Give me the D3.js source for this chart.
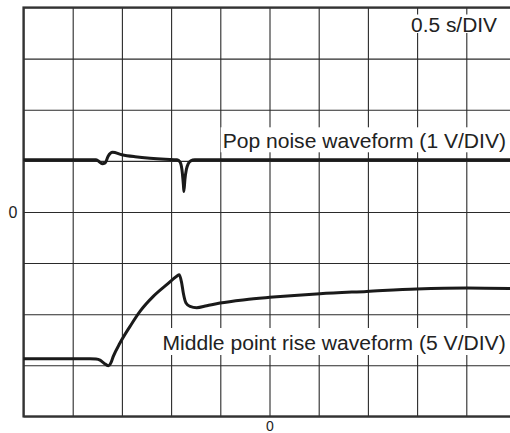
<!DOCTYPE html>
<html>
<head>
<meta charset="utf-8">
<script src="https://cdn.jsdelivr.net/npm/d3@7"></script>
<style>
  html, body { margin: 0; padding: 0; background: #fff; }
  svg { display: block; font-family: "Liberation Sans", Arial, Helvetica, sans-serif; }
</style>
</head>
<body>
<svg id="chart" width="510" height="433"></svg>
<script>
// ---- data (x: divisions from centre, y: divisions from centre) ----
const popX = [-5, -3.53, -3.47, -3.40, -3.34, -3.28, -3.19, -3.00, -2.73, -2.43, -2.12, -1.88, -1.82, -1.78, -1.75, -1.74, -1.72, -1.69, -1.65, -1.60, -1.52, 5];
const popY = [1.02, 1.02, 0.99, 0.945, 0.96, 1.09, 1.166, 1.12, 1.08, 1.05, 1.03, 1.02, 0.98, 0.83, 0.53, 0.40, 0.63, 0.83, 0.945, 1.00, 1.02, 1.02];

const midX = [-5, -3.648, -3.526, -3.445, -3.364, -3.276, -3.222, -3.175, -3.039, -2.835, -2.632, -2.362, -2.089, -1.886, -1.833, -1.785, -1.752, -1.697, -1.616, -1.480, -1.276, -1.006, -0.498, 0.004, 1.026, 1.976, 2.992, 4.008, 5];
const midY = [-2.873, -2.873, -2.879, -2.90, -2.959, -3.008, -2.949, -2.826, -2.564, -2.239, -1.945, -1.652, -1.423, -1.260, -1.227, -1.389, -1.585, -1.781, -1.847, -1.873, -1.834, -1.781, -1.716, -1.671, -1.599, -1.554, -1.507, -1.487, -1.50];

const xGrid = [-5, -4, -3, -2, -1, 0, 1, 2, 3, 4, 5];
const yGrid = [-4, -3, -2, -1, 0, 1, 2, 3, 4];
const xTickLabels = ["0"];
const yTickLabels = ["0"];
const scaleLabel = "0.5 s/DIV";
const popLabel = "Pop noise waveform (1 V/DIV)";
const midLabel = "Middle point rise waveform (5 V/DIV)";

// ---- layout ----
const svg = d3.select("#chart");
const L = 23.5, R = 515.5, T = 7.5, B = 416.4;
const x = d3.scaleLinear().domain([-5, 5]).range([L, R]);
const y = d3.scaleLinear().domain([-4, 4]).range([B, T]);

const gridColor = "#2a2a2a";

// grid via axes
const gx = svg.append("g").attr("transform", `translate(0,${B})`)
  .call(d3.axisBottom(x).tickValues(xGrid).tickSize(-(B - T)).tickFormat(""));
gx.select(".domain").remove();
gx.selectAll(".tick line").attr("stroke", gridColor).attr("stroke-width", 1.1);

const gy = svg.append("g").attr("transform", `translate(${L},0)`)
  .call(d3.axisLeft(y).tickValues(yGrid).tickSize(-(R - L)).tickFormat(""));
gy.select(".domain").remove();
gy.selectAll(".tick line").attr("stroke", gridColor).attr("stroke-width", 1.1);

// frame
svg.append("rect").attr("x", L).attr("y", T).attr("width", R - L).attr("height", B - T)
  .attr("fill", "none").attr("stroke", "#333").attr("stroke-width", 2.2);

// labels with white boxes
function boxedText(txt, x0, base, w, fs, padTop, padBot) {
  svg.append("rect").attr("x", x0 - 2).attr("y", base - padTop)
    .attr("width", w + 4).attr("height", padTop + padBot).attr("fill", "#fff");
  svg.append("text").attr("x", x0).attr("y", base)
    .attr("font-size", fs).attr("fill", "#222")
    .attr("textLength", w).attr("lengthAdjust", "spacingAndGlyphs")
    .text(txt);
}
boxedText(scaleLabel, 411, 31.5, 86, 19.5, 17, 1.5);
boxedText(popLabel, 222.7, 148.3, 283.3, 19.5, 21, 4);
boxedText(midLabel, 162.5, 350, 343.2, 19.5, 22, 5);

// waveforms
const line = d3.line().x(d => x(d[0])).y(d => y(d[1])).curve(d3.curveMonotoneX);
const popData = popX.map((v, i) => [v, popY[i]]);
const midData = midX.map((v, i) => [v, midY[i]]);

svg.append("path").datum(popData).attr("d", line)
  .attr("fill", "none").attr("stroke", "#1a1a1a").attr("stroke-width", 3)
  .attr("stroke-linejoin", "round");
svg.append("path").datum(midData).attr("d", line)
  .attr("fill", "none").attr("stroke", "#1a1a1a").attr("stroke-width", 3)
  .attr("stroke-linejoin", "round");

// zero labels via axes
const lx = svg.append("g").attr("transform", `translate(0,${B})`)
  .call(d3.axisBottom(x).tickValues([0]).tickSize(0).tickPadding(4.5).tickFormat((d, i) => xTickLabels[i]));
lx.select(".domain").remove();
lx.selectAll("text").attr("font-size", 14).attr("fill", "#222")
  .attr("font-family", "Liberation Sans, Arial, sans-serif");

const ly = svg.append("g").attr("transform", `translate(${L},0)`)
  .call(d3.axisLeft(y).tickValues([0]).tickSize(0).tickPadding(6).tickFormat((d, i) => yTickLabels[i]));
ly.select(".domain").remove();
ly.selectAll("text").attr("font-size", 16).attr("fill", "#222")
  .attr("font-family", "Liberation Sans, Arial, sans-serif");
</script>
</body>
</html>
